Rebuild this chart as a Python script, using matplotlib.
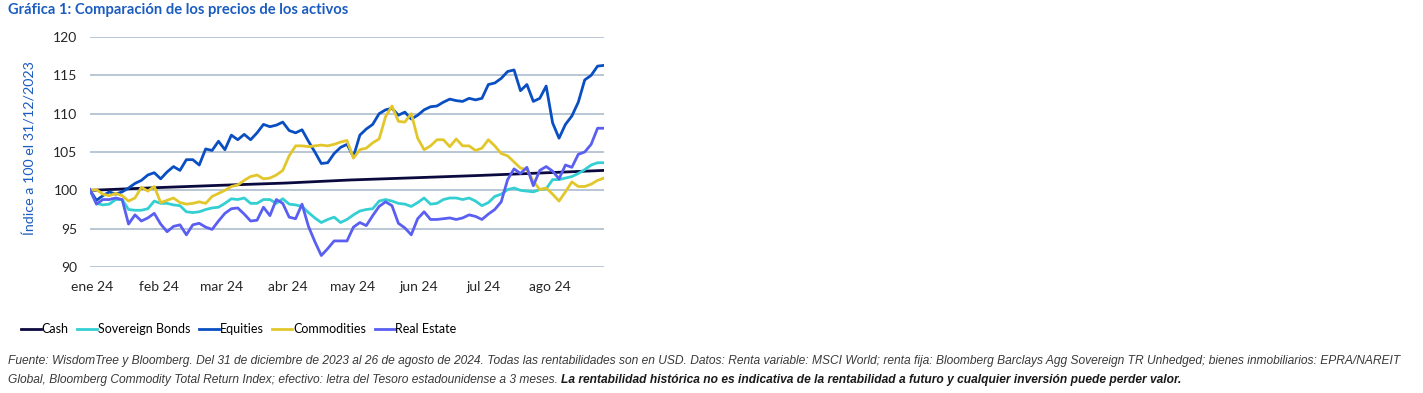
import numpy as np
import pandas as pd
import matplotlib
matplotlib.use("Agg")
from matplotlib import pyplot as plt
import matplotlib.dates as mdates

# fechas: 31/12/2023 a 26/08/2024, un punto cada ~3 dias
fechas = pd.date_range("2023-12-31", "2024-08-26", periods=81)

equities = [100.0, 98.7, 99.3, 99.8, 99.5, 99.8, 100.3, 100.9, 101.3, 102.0,
            102.3, 101.5, 102.4, 103.1, 102.6, 104.0, 104.0, 103.3, 105.4, 105.2,
            106.4, 105.3, 107.2, 106.6, 107.3, 106.6, 107.5, 108.6, 108.3, 108.5,
            108.9, 107.8, 107.5, 107.9, 106.4, 105.0, 103.5, 103.6, 104.8, 105.6,
            106.0, 104.4, 107.2, 108.0, 108.6, 110.0, 110.5, 110.7, 109.8, 110.2,
            109.3, 109.8, 110.5, 110.9, 111.0, 111.5, 111.9, 111.7, 111.6, 112.0,
            111.8, 112.0, 113.8, 114.0, 114.6, 115.5, 115.7, 113.0, 113.8, 111.6,
            112.0, 113.6, 108.8, 106.8, 108.6, 109.7, 111.5, 114.4, 115.0, 116.2,
            116.3]

commodities = [100.0, 100.1, 99.5, 99.3, 99.6, 99.3, 98.6, 99.0, 100.4, 99.9,
               100.5, 98.4, 98.7, 99.0, 98.4, 98.2, 98.3, 98.5, 98.3, 99.2,
               99.6, 100.0, 100.5, 100.7, 101.3, 101.8, 102.0, 101.5, 101.6, 102.0,
               102.6, 104.5, 105.8, 105.8, 105.7, 105.8, 105.9, 105.8, 106.0, 106.3,
               106.5, 104.2, 105.3, 105.5, 106.2, 106.7, 109.6, 111.0, 109.0, 108.9,
               110.0, 106.8, 105.3, 105.8, 106.6, 106.6, 105.7, 106.7, 105.8, 105.8,
               105.2, 105.5, 106.6, 105.8, 104.8, 104.5, 103.7, 102.9, 102.7, 101.2,
               100.1, 100.3, 99.5, 98.6, 99.8, 101.1, 100.5, 100.5, 100.8, 101.3,
               101.6]

sovereign = [100.0, 98.3, 98.1, 98.2, 98.8, 98.8, 97.5, 97.4, 97.4, 97.6,
             98.6, 98.3, 98.3, 98.1, 98.0, 97.2, 97.1, 97.2, 97.5, 97.7,
             97.8, 98.3, 98.9, 98.8, 99.0, 98.3, 98.3, 98.8, 98.8, 98.3,
             98.9, 98.2, 98.1, 97.9, 97.1, 96.4, 95.8, 96.2, 96.5, 95.8,
             96.2, 96.8, 97.3, 97.5, 97.6, 98.6, 98.8, 98.6, 98.3, 98.2,
             97.9, 98.4, 99.0, 98.2, 98.3, 98.8, 99.0, 99.0, 98.8, 99.0,
             98.6, 98.0, 98.4, 99.2, 99.5, 100.1, 100.3, 100.0, 99.9, 99.8,
             100.1, 100.2, 101.4, 101.4, 101.6, 101.8, 102.2, 102.7, 103.3, 103.6,
             103.6]

real_estate = [100.1, 98.2, 98.8, 98.8, 99.0, 98.8, 95.6, 96.8, 96.0, 96.4,
               97.0, 95.6, 94.6, 95.3, 95.5, 94.2, 95.5, 95.7, 95.2, 94.9,
               96.0, 97.0, 97.6, 97.7, 96.9, 96.0, 96.1, 97.8, 96.7, 98.8,
               98.3, 96.5, 96.3, 98.2, 95.3, 93.3, 91.5, 92.4, 93.4, 93.4,
               93.4, 95.2, 95.8, 95.4, 96.7, 97.9, 98.5, 98.0, 95.7, 95.1,
               94.2, 96.3, 97.2, 96.2, 96.2, 96.3, 96.4, 96.2, 96.4, 96.8,
               96.6, 96.2, 96.9, 97.5, 98.5, 101.4, 102.8, 102.2, 103.0, 100.6,
               102.6, 103.1, 102.5, 101.5, 103.3, 103.0, 104.7, 105.0, 106.0, 108.1,
               108.1]

# cash: casi lineal, leido a fin de mes
fechas_cash = pd.to_datetime(["2023-12-31", "2024-01-31", "2024-02-29", "2024-03-31",
                              "2024-04-30", "2024-05-31", "2024-06-30", "2024-07-31",
                              "2024-08-26"])
cash = [100.0, 100.35, 100.65, 100.95, 101.35, 101.65, 101.95, 102.3, 102.6]

meses = pd.date_range("2024-01-01", "2024-08-01", freq="MS")
etiquetas_meses = ["ene 24", "feb 24", "mar 24", "abr 24", "may 24", "jun 24", "jul 24", "ago 24"]
yticks = [90, 95, 100, 105, 110, 115, 120]

c_cash = "#0b0a3e"
c_sov = "#33cfd3"
c_eq = "#0a4fc2"
c_com = "#e2c72c"
c_re = "#5a5ff2"
c_titulo = "#1b5cc0"

plt.rcParams['font.family'] = ['Lato', 'DejaVu Sans']

fig = plt.figure(figsize=(14.23, 3.93), dpi=100)
ax = fig.add_axes([90/1423, 1-267/393, 514/1423, 230/393])

lw = 2.0
ax.plot(fechas_cash, cash, color=c_cash, lw=lw, label="Cash")
ax.plot(fechas, sovereign, color=c_sov, lw=lw, label="Sovereign Bonds")
ax.plot(fechas, equities, color=c_eq, lw=lw, label="Equities")
ax.plot(fechas, commodities, color=c_com, lw=lw, label="Commodities")
ax.plot(fechas, real_estate, color=c_re, lw=lw, label="Real Estate")

ax.set_xlim(pd.Timestamp("2023-12-31"), pd.Timestamp("2024-08-26"))
ax.set_ylim(90, 120)
ax.set_yticks(yticks)
ax.set_xticks(meses)
ax.set_xticklabels(etiquetas_meses)
ax.tick_params(axis='both', length=0, labelsize=10, colors="#262626")
ax.tick_params(axis='y', pad=9)
ax.tick_params(axis='x', pad=10)
ax.grid(axis='y', color="#b3c2d1", lw=1.3)
ax.set_axisbelow(True)
for s in ax.spines.values():
    s.set_visible(False)

ax.set_ylabel("Índice a 100 el 31/12/2023", color=c_titulo, fontsize=10.3)
ax.yaxis.set_label_coords(-0.104, 0.515)

fig.text(8/1423, 1-10/393, "Gráfica 1: Comparación de los precios de los activos",
         color=c_titulo, fontsize=10.6, fontweight='bold', va='center', ha='left')

fig.legend(loc="center left", bbox_to_anchor=(21/1423, 1-329/393), ncol=5, frameon=False,
           fontsize=9, handlelength=1.6, handletextpad=0.05, columnspacing=0.7,
           borderpad=0, borderaxespad=0)

# nota al pie
nota1 = ("Fuente: WisdomTree y Bloomberg. Del 31 de diciembre de 2023 al 26 de agosto de 2024. "
         "Todas las rentabilidades son en USD. Datos: Renta variable: MSCI World; renta fija: "
         "Bloomberg Barclays Agg Sovereign TR Unhedged; bienes inmobiliarios: EPRA/NAREIT")
nota2 = ("Global, Bloomberg Commodity Total Return Index; efectivo: letra del Tesoro "
         "estadounidense a 3 meses. ")
nota3 = ("La rentabilidad histórica no es indicativa de la rentabilidad a futuro y "
         "cualquier inversión puede perder valor.")
fnt = dict(family='Liberation Sans', fontsize=8.65, style='italic', color="#3a3a3a", va='center')
fig.text(8/1423, 1-361/393, nota1, **fnt)
t2 = fig.text(8/1423, 1-380/393, nota2, **fnt)
fig.canvas.draw()
bb = t2.get_window_extent()
x3 = fig.transFigure.inverted().transform((bb.x1, bb.y0))[0]
fig.text(x3, 1-380/393, nota3, fontweight='bold', **dict(fnt, color="#1a1a1a"))

fig.savefig("out.png", dpi=100)
